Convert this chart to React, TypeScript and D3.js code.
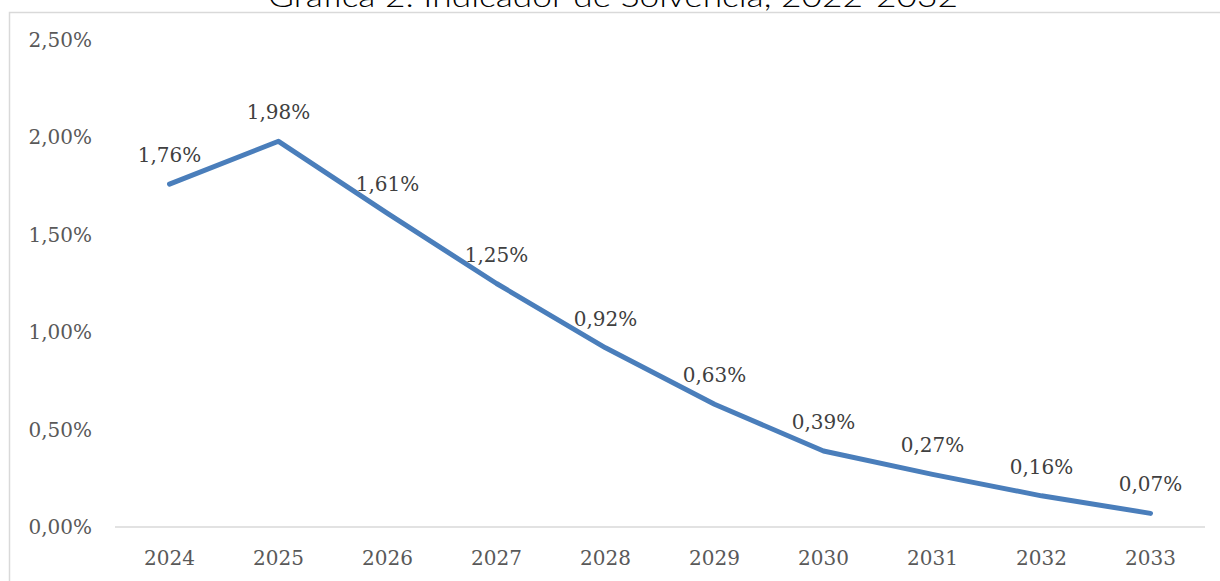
import * as d3 from "d3";
import React from "react";

const years = ["2024", "2025", "2026", "2027", "2028", "2029", "2030", "2031", "2032", "2033"];
const solvencia = [1.76, 1.98, 1.61, 1.25, 0.92, 0.63, 0.39, 0.27, 0.16, 0.07];
const yTicks = [0, 0.5, 1, 1.5, 2, 2.5];
const title = "Gráfica 2. Indicador de Solvencia, 2022-2032";

const fmt = (v: number) => v.toFixed(2).replace(".", ",") + "%";

const App = () => {
  const width = 1220;
  const height = 581;
  const margins = { top: 40, right: 15, bottom: 54, left: 115 };
  const innerWidth = width - margins.left - margins.right;
  const innerHeight = height - margins.top - margins.bottom;

  const xScale = d3.scalePoint<string>().domain(years).range([0, innerWidth]).padding(0.5);
  const yScale = d3.scaleLinear().domain([0, 2.5]).range([innerHeight, 0]);

  const line = d3
    .line<number>()
    .x((_, i) => xScale(years[i]) as number)
    .y((d) => yScale(d));

  const serif = "'DejaVu Serif', serif";

  return (
    <svg
      width={width}
      height={height}
      style={{ position: "absolute", left: 0, top: 0, background: "#fff" }}
    >
      <text
        x={613}
        y={7}
        textAnchor="middle"
        fontFamily="'Century Gothic', Lato, sans-serif"
        fontWeight={300}
        fontSize={29}
        fill="#000"
        textLength={690}
        lengthAdjust="spacingAndGlyphs"
      >
        {title}
      </text>
      <rect x={9.5} y={12.5} width={1300} height={700} fill="none" stroke="#d9d9d9" strokeWidth={1.5} />
      <g transform={`translate(${margins.left},${margins.top})`}>
        <line x1={0} x2={innerWidth} y1={yScale(0)} y2={yScale(0)} stroke="#d9d9d9" strokeWidth={1.5} />
        {yTicks.map((t) => (
          <text
            key={t}
            x={-23}
            y={yScale(t)}
            dy="0.35em"
            textAnchor="end"
            fontFamily={serif}
            fontSize={20}
            fill="#595959"
          >
            {fmt(t)}
          </text>
        ))}
        {years.map((y) => (
          <text
            key={y}
            x={xScale(y)}
            y={innerHeight + 38}
            textAnchor="middle"
            fontFamily={serif}
            fontSize={20}
            fill="#595959"
          >
            {y}
          </text>
        ))}
        <path
          d={line(solvencia) || ""}
          fill="none"
          stroke="#4a7ebb"
          strokeWidth={5}
          strokeLinecap="round"
          strokeLinejoin="round"
        />
        {solvencia.map((v, i) => (
          <text
            key={years[i]}
            x={xScale(years[i])}
            y={yScale(v) - 22}
            textAnchor="middle"
            fontFamily={serif}
            fontSize={20}
            fill="#404040"
          >
            {fmt(v)}
          </text>
        ))}
      </g>
    </svg>
  );
};

export default App;
